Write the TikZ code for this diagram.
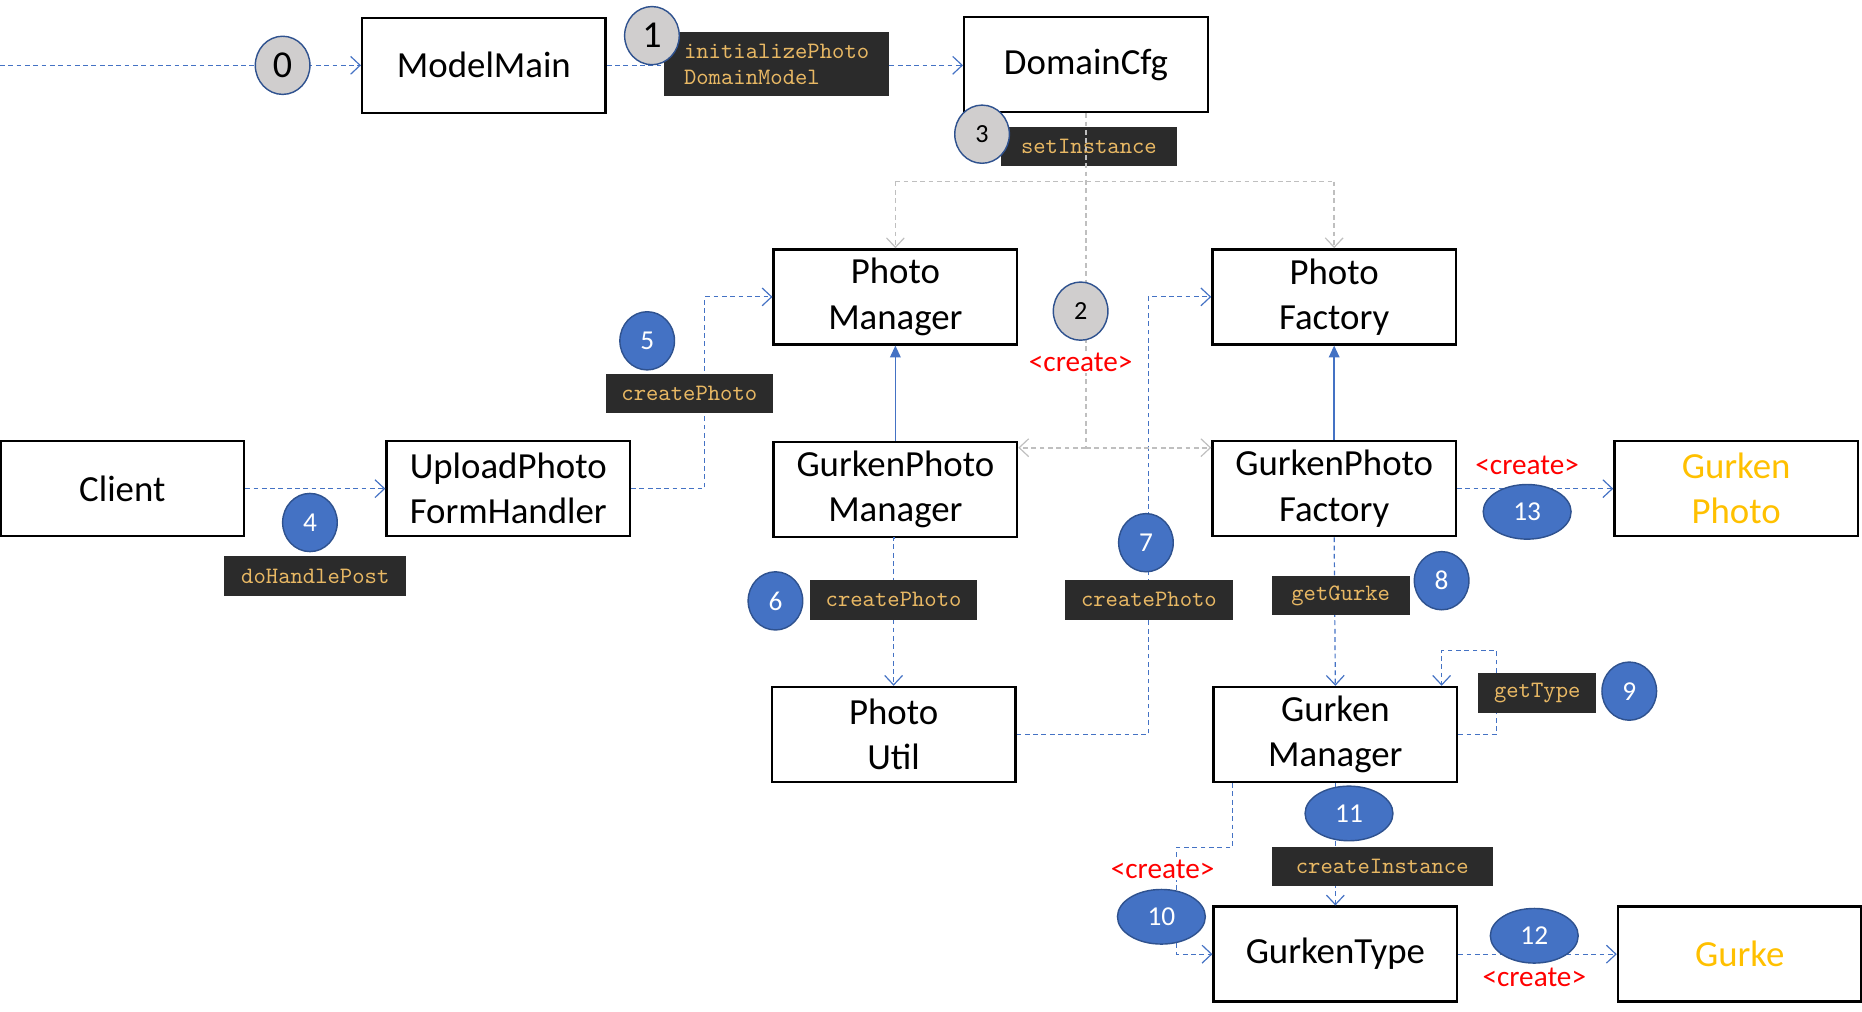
\documentclass[tikz,border=0pt]{standalone}
\usepackage{fontspec}
\setmainfont{Carlito}
\usetikzlibrary{arrows.meta,shapes.geometric,calc}
\definecolor{lblue}{RGB}{68,114,196}
\definecolor{cborder}{RGB}{47,82,143}
\definecolor{cgray}{RGB}{208,206,206}
\definecolor{lgray}{RGB}{191,191,191}
\definecolor{labbg}{RGB}{43,43,43}
\definecolor{labfg}{RGB}{232,184,100}
\definecolor{gorange}{RGB}{255,192,0}
\tikzset{
  x=0.5pt,y=-0.5pt,
  box/.style={draw=black,line width=1pt,minimum width=102.5pt,minimum height=40pt,inner sep=0pt,align=center,
    font=\fontsize{15.5pt}{19pt}\selectfont},
  lab/.style={fill=labbg,text=labfg,inner sep=0pt,align=left,font=\ttfamily\fontsize{9.9pt}{11pt}\selectfont},
  num/.style={ellipse,draw=cborder,line width=0.6pt,inner sep=0pt,minimum width=23pt,minimum height=24.5pt},
  gnum/.style={num,fill=cgray,text=black},
  bnum/.style={num,fill=lblue,text=white,font=\fontsize{11.5pt}{13pt}\selectfont},
  wnum/.style={bnum,minimum width=37pt,minimum height=23pt},
  crt/.style={text=red,fill=white,inner sep=0.5pt,font=\fontsize{12.3pt}{14pt}\selectfont},
  flow/.style={draw=lblue,line width=0.5pt,dash pattern=on 2pt off 1.5pt,-{Straight Barb[length=4pt,width=7.5pt,line width=0.5pt]}},
  gflow/.style={draw=lgray,line width=0.6pt,dash pattern=on 2pt off 1.5pt},
  garrow/.style={gflow,-{Straight Barb[length=4pt,width=7.5pt,line width=0.5pt]}},
  inh/.style={draw=lblue,line width=0.6pt,-{Triangle[length=5pt,width=4.5pt]}}
}
\begin{document}
\begin{tikzpicture}
\useasboundingbox (0,0) rectangle (1568,852);
% boxes
\node[box] (mm) at (407.5,55) {ModelMain};
\node[box] (dc) at (914.5,54.5) {DomainCfg};
\node[box] (pm) at (754,250) {Photo\\Manager};
\node[box] (pf) at (1123.5,250) {Photo\\Factory};
\node[box] (cl) at (103,411.5) {Client};
\node[box] (up) at (428,411.5) {UploadPhoto\\FormHandler};
\node[box] (gpm) at (754,412) {GurkenPhoto\\Manager};
\node[box] (gpf) at (1123.5,411.5) {GurkenPhoto\\Factory};
\node[box,text=gorange] (gp) at (1462,411.5) {Gurken\\Photo};
\node[box] (pu) at (752.5,618.5) {Photo\\Util};
\node[box] (gm) at (1124.5,618.5) {Gurken\\Manager};
\node[box] (gt) at (1124.5,803.5) {GurkenType};
\node[box,text=gorange] (gk) at (1465,803.5) {Gurke};
% blue flows
\coordinate (start) at (0,55);
\draw[flow] (start) -- (mm.west);
\draw[flow] (mm.east) -- (mm.east -| dc.west);
\draw[flow] (cl.east) -- (up.west);
\draw[flow] (up.east) -- ++(62,0) |- (pm.west);
\draw[flow] (gpm.south) -- (gpm.south -| pu.north) -- (pu.north);
\draw[flow] (pu.east) -- ++(111,0) |- (pf.west);
\draw[flow] (gpf.south) -- (gm.north);
\draw[flow] (gm.east) -- ++(32,0) -- ++(0,-71) -| ($(gm.north)+(89.5,0)$);
\draw[flow] (gpf.east) -- (gp.west);
\draw[flow] ($(gm.south)+(-86.5,0)$) -- ++(0,54) -- ++(-47,0) |- (gt.west);
\draw[flow] (gm.south) -- (gt.north);
\draw[flow] (gt.east) -- (gk.west);
\draw[inh] (gpm.north) -- (pm.south);
\draw[inh] (gpf.north) -- (pf.south);
% labels
\node[lab,minimum width=95pt,minimum height=27pt] (l1) at (654,54) {initializePhoto\\DomainModel};
\node[lab,minimum width=74pt,minimum height=16.5pt] (l3) at (917,123.5) {setInstance};
\node[lab,minimum width=70.5pt,minimum height=16.5pt] (l5) at (580.5,331.5) {createPhoto};
\node[lab,minimum width=76.5pt,minimum height=17pt] (l4) at (265.5,485) {doHandlePost};
\node[lab,minimum width=70.5pt,minimum height=17pt] (l6) at (752.5,505) {createPhoto};
\node[lab,minimum width=70.5pt,minimum height=17pt] (l7) at (967.5,505) {createPhoto};
\node[lab,minimum width=58pt,minimum height=16.5pt] (l8) at (1129,501.5) {getGurke};
\node[lab,minimum width=49.5pt,minimum height=16.5pt] (l9) at (1294.5,583.5) {getType};
\node[lab,minimum width=93pt,minimum height=16.5pt] (l11) at (1164,729.5) {createInstance};
% gray flows
\coordinate (gbr) at (914.5,153);
\coordinate (gjoin) at (914.5,377);
\draw[gflow] (dc.south) -- (gjoin);
\draw[gflow] (gbr -| pm.north) -- (gbr -| pf.north);
\draw[garrow] (gbr -| pm.north) -- (pm.north);
\draw[garrow] (gbr -| pf.north) -- (pf.north);
\draw[garrow,line width=1pt] (gjoin) -- (gjoin -| gpm.east);
\draw[garrow,line width=1pt] (gjoin) -- (gjoin -| gpf.west);
% create labels
\node[crt] (c2) at (910,305) {<create>};
\node[crt] (c13) at (1286,392) {<create>};
\node[crt] (c10) at (979,732) {<create>};
\node[crt] (c12) at (1292,823) {<create>};
% numbers
\node[gnum,font=\fontsize{16pt}{18pt}\selectfont] (n0) at (238,55) {0};
\node[gnum,font=\fontsize{16pt}{18pt}\selectfont] (n1) at (549,30) {1};
\node[gnum,font=\fontsize{11pt}{13pt}\selectfont] (n3) at (827,113) {3};
\node[gnum,font=\fontsize{11pt}{13pt}\selectfont] (n2) at (910,262) {2};
\node[bnum] (n5) at (545,287) {5};
\node[bnum] (n4) at (261,440) {4};
\node[bnum] (n6) at (653,506) {6};
\node[bnum] (n7) at (965,457) {7};
\node[bnum] (n8) at (1214,489) {8};
\node[bnum] (n9) at (1372,582) {9};
\node[wnum] (n13) at (1286,431) {13};
\node[wnum] (n11) at (1136,685) {11};
\node[wnum] (n10) at (978,772) {10};
\node[wnum] (n12) at (1292,788) {12};
\end{tikzpicture}
\end{document}
